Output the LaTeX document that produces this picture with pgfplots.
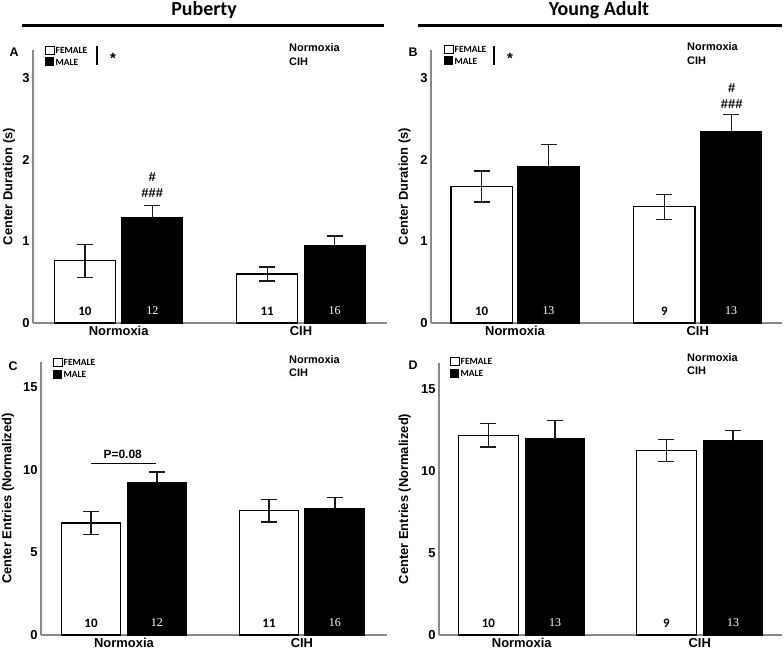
\documentclass[border=0pt]{standalone}
\usepackage{fontspec}
\setmainfont{Liberation Sans}
\newfontfamily\calib{Carlito}
\newfontfamily\cambr{Liberation Serif}
\usepackage{pgfplots}
\usepackage{pgfplotstable}
\pgfplotsset{compat=1.18}

\definecolor{axisgray}{HTML}{8A8A8A}
\definecolor{errcol}{HTML}{1A1A1A}

% columns: bar position (female / male), mean and SEM for each sex
\pgfplotstableread{
xf fem femse xm male malese
-0.185 0.76 0.20 0.185 1.29 0.15
0.815 0.60 0.085 1.185 0.95 0.115
}\dataA
\pgfplotstableread{
xf fem femse xm male malese
-0.183 1.67 0.19 0.183 1.92 0.26
0.817 1.42 0.15 1.183 2.34 0.21
}\dataB
\pgfplotstableread{
xf fem femse xm male malese
-0.185 6.79 0.70 0.185 9.23 0.66
0.815 7.53 0.67 1.185 7.65 0.67
}\dataC
\pgfplotstableread{
xf fem femse xm male malese
-0.187 12.20 0.72 0.187 11.97 1.12
0.813 11.26 0.66 1.187 11.85 0.65
}\dataD

\pgfplotsset{
  panel/.style={
    scale only axis,
    anchor=south west,
    axis x line*=bottom,
    axis y line*=left,
    axis line style={-, draw=axisgray, line width=1.1bp},
    major tick length=0pt,
    xtick={0,1},
    xticklabels={Normoxia,CIH},
    ymin=0,
    tick label style={font=\bfseries\fontsize{13}{15}\selectfont},
    /pgf/number format/assume math mode=true,
    ylabel style={font=\bfseries\fontsize{13}{15}\selectfont, anchor=center},
    clip=false,
  },
  fembar/.style={ybar, bar width=0.335, bar shift=0, fill=white, draw=black, line width=1.1bp,
    error bars/.cd, y dir=both, y explicit,
    error bar style={errcol, line width=1.3bp},
    error mark options={rotate=90, mark size=8bp, errcol, line width=1.3bp}},
  malebar/.style={ybar, bar width=0.335, bar shift=0, fill=black, draw=black, line width=1.1bp,
    error bars/.cd, y dir=plus, y explicit,
    error bar style={errcol, line width=1.3bp},
    error mark options={rotate=90, mark size=8bp, errcol, line width=1.3bp}},
}

\tikzset{
  nf/.style={font=\calib\bfseries\fontsize{13}{15}\selectfont, anchor=center, yshift=12bp, text=black},
  nm/.style={font=\cambr\fontsize{12}{14}\selectfont, anchor=center, yshift=12bp, text=white},
  lgtxt/.style={font=\calib\bfseries\fontsize{9.5}{11}\selectfont, anchor=west, inner sep=0pt},
  cond/.style={font=\bfseries\fontsize{11}{13}\selectfont, anchor=west, inner sep=0pt},
  plab/.style={font=\bfseries\fontsize{12.5}{14}\selectfont},
  hash/.style={font=\bfseries\fontsize{13}{15}\selectfont},
}

\newcommand{\sexlegend}[2]{%
  \draw[black, line width=0.9bp, fill=white] (#1,-#2) rectangle ++(9,-8.5);
  \fill[black] (#1,-#2-11.5) rectangle ++(9,-9);
  \node[lgtxt] at (#1+10.5,-#2-4) {FEMALE};
  \node[lgtxt] at (#1+10.5,-#2-16) {MALE};
}

\begin{document}
\begin{tikzpicture}[x=1bp,y=1bp]
\useasboundingbox (0,0) rectangle (784,-653);

% headers
\node[font=\calib\bfseries\fontsize{20}{24}\selectfont, anchor=base] at (204,-16) {Puberty};
\node[font=\calib\bfseries\fontsize{20}{24}\selectfont, anchor=base] at (599,-16) {Young Adult};
\draw[line width=3bp] (22,-26) -- (384,-26);
\draw[line width=3bp] (418,-26) -- (782,-26);

% ---- A ----
\begin{axis}[panel, at={(33bp,-323bp)}, width=354bp, height=273bp,
  xmin=-0.47, xmax=1.472, ymax=3.34, ytick={0,1,2,3},
  ylabel={Center Duration (s)}, ylabel style={at={(axis description cs:-0.068,0.5)}}]
\addplot[fembar] table[x=xf, y=fem, y error=femse] {\dataA};
\addplot[malebar] table[x=xm, y=male, y error=malese] {\dataA};
\node[nf] at (axis cs:-0.185,0) {10};
\node[nm] at (axis cs:0.185,0) {12};
\node[nf] at (axis cs:0.815,0) {11};
\node[nm] at (axis cs:1.185,0) {16};
\end{axis}
\node[plab] at (14,-52) {A};
\sexlegend{45}{46}
\draw[line width=1.3bp] (97,-46) -- (97,-65);
\node[font=\bfseries\fontsize{15}{17}\selectfont] at (113,-58) {*};
\node[cond] at (289,-48) {Normoxia};
\node[cond] at (289,-62) {CIH};
\node[hash] at (152.3,-177.5) {\#};
\node[hash] at (152.3,-193) {\#\#\#};

% ---- B ----
\begin{axis}[panel, at={(431bp,-323bp)}, width=351bp, height=273bp,
  xmin=-0.46, xmax=1.461, ymax=3.34, ytick={0,1,2,3},
  ylabel={Center Duration (s)}, ylabel style={at={(axis description cs:-0.0755,0.5)}}]
\addplot[fembar] table[x=xf, y=fem, y error=femse] {\dataB};
\addplot[malebar] table[x=xm, y=male, y error=malese] {\dataB};
\node[nf] at (axis cs:-0.183,0) {10};
\node[nm] at (axis cs:0.183,0) {13};
\node[nf] at (axis cs:0.817,0) {9};
\node[nm] at (axis cs:1.183,0) {13};
\end{axis}
\node[plab] at (413,-52) {B};
\sexlegend{444}{45}
\draw[line width=1.3bp] (494,-46) -- (494,-65);
\node[font=\bfseries\fontsize{15}{17}\selectfont] at (510,-58) {*};
\node[cond] at (687,-47) {Normoxia};
\node[cond] at (687,-61) {CIH};
\node[hash] at (731.7,-88) {\#};
\node[hash] at (731.7,-104.5) {\#\#\#};

% ---- C ----
\begin{axis}[panel, at={(41bp,-635bp)}, width=346bp, height=273bp,
  xmin=-0.466, xmax=1.478, ymax=16.55, ytick={0,5,10,15},
  ylabel={Center Entries (Normalized)}, ylabel style={at={(axis description cs:-0.095,0.5)}}]
\addplot[fembar] table[x=xf, y=fem, y error=femse] {\dataC};
\addplot[malebar] table[x=xm, y=male, y error=malese] {\dataC};
\node[nf] at (axis cs:-0.185,0) {10};
\node[nm] at (axis cs:0.185,0) {12};
\node[nf] at (axis cs:0.815,0) {11};
\node[nm] at (axis cs:1.185,0) {16};
\end{axis}
\node[plab] at (13,-366) {C};
\sexlegend{53}{358}
\node[cond] at (289,-360) {Normoxia};
\node[cond] at (289,-373) {CIH};
\draw[line width=1.5bp] (90.7,-463.7) -- (156,-463.7);
\node[font=\bfseries\fontsize{12}{14}\selectfont] at (122.7,-454.3) {P=0.08};

% ---- D ----
\begin{axis}[panel, at={(439bp,-635bp)}, width=343bp, height=272bp,
  xmin=-0.465, xmax=1.462, ymax=16.6, ytick={0,5,10,15},
  ylabel={Center Entries (Normalized)}, ylabel style={at={(axis description cs:-0.1,0.5)}}]
\addplot[fembar] table[x=xf, y=fem, y error=femse] {\dataD};
\addplot[malebar] table[x=xm, y=male, y error=malese] {\dataD};
\node[nf] at (axis cs:-0.187,0) {10};
\node[nm] at (axis cs:0.187,0) {13};
\node[nf] at (axis cs:0.813,0) {9};
\node[nm] at (axis cs:1.187,0) {13};
\end{axis}
\node[plab] at (413,-365) {D};
\sexlegend{450}{357}
\node[cond] at (687,-358) {Normoxia};
\node[cond] at (687,-371) {CIH};
\end{tikzpicture}
\end{document}
